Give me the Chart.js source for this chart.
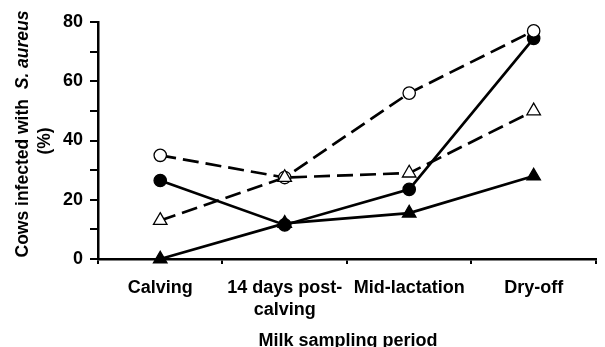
<!DOCTYPE html>
<html>
<head>
<meta charset="utf-8">
<script src="https://cdn.jsdelivr.net/npm/chart.js@4/dist/chart.umd.min.js"></script>
<style>
html,body{margin:0;padding:0;background:#fff;}
#wrap{width:605px;height:347px;position:relative;}
</style>
</head>
<body>
<div id="wrap"><canvas id="c"></canvas></div>
<script>
const categories = ['Calving', ['14 days post-', 'calving'], 'Mid-lactation', 'Dry-off'];
const openCircle = [35, 27.5, 56, 77];
const filledCircle = [26.5, 11.5, 23.5, 74.5];
const openTriangle = [13, 27.5, 29, 50];
const filledTriangle = [0, 12, 15.5, 28];
const yTicksMajor = [0, 20, 40, 60, 80];
const yTitleMain = 'Cows infected with  ';
const yTitleItalic = 'S. aureus';
const yTitleUnit = '(%)';
const xTitle = 'Milk sampling period';

const FONT = '"Liberation Sans", Arial, sans-serif';
const FS = 18;
const FSY = 17.5;

const titlePlugin = {
  id: 'titles',
  afterDraw(chart) {
    const ctx = chart.ctx;
    ctx.save();
    ctx.fillStyle = '#000';
    ctx.textBaseline = 'middle';
    // x title
    ctx.font = 'bold ' + FS + 'px ' + FONT;
    ctx.textAlign = 'center';
    ctx.fillText(xTitle, 348, 341);
    // y title line 1 (mixed style)
    ctx.save();
    ctx.translate(23, 134);
    ctx.rotate(-Math.PI / 2);
    ctx.textAlign = 'left';
    ctx.font = 'bold ' + FSY + 'px ' + FONT;
    const w1 = ctx.measureText(yTitleMain).width;
    ctx.font = 'italic bold ' + FSY + 'px ' + FONT;
    const w2 = ctx.measureText(yTitleItalic).width;
    const x0 = -(w1 + w2) / 2;
    ctx.font = 'bold ' + FSY + 'px ' + FONT;
    ctx.fillText(yTitleMain, x0, 0);
    ctx.font = 'italic bold ' + FSY + 'px ' + FONT;
    ctx.fillText(yTitleItalic, x0 + w1, 0);
    ctx.restore();
    // y title line 2
    ctx.save();
    ctx.translate(45, 141);
    ctx.rotate(-Math.PI / 2);
    ctx.textAlign = 'center';
    ctx.font = 'bold ' + FSY + 'px ' + FONT;
    ctx.fillText(yTitleUnit, 0, 0);
    ctx.restore();
    ctx.restore();
  }
};

const dash = [16, 7];
function ds(label, data, style, filled, dashed) {
  const r = style === 'triangle' ? 7.8 : 6.2;
  return {
    label, data,
    borderColor: '#000',
    borderWidth: 2.7,
    borderDash: dashed ? dash : [],
    pointStyle: style,
    pointRadius: r,
    pointHoverRadius: r,
    pointBackgroundColor: filled ? '#000' : '#fff',
    pointBorderColor: '#000',
    pointBorderWidth: 1.3,
    fill: false,
    tension: 0,
    clip: false
  };
}

new Chart(document.getElementById('c'), {
  type: 'line',
  data: {
    labels: categories,
    datasets: [
      ds('Open triangle', openTriangle, 'triangle', false, true),
      ds('Filled triangle', filledTriangle, 'triangle', true, false),
      ds('Open circle', openCircle, 'circle', false, true),
      ds('Filled circle', filledCircle, 'circle', true, false)
    ]
  },
  options: {
    responsive: true,
    maintainAspectRatio: false,
    animation: false,
    layout: { padding: { top: 22, right: 1, left: 0, bottom: 0 } },
    plugins: { legend: { display: false }, tooltip: { enabled: false } },
    scales: {
      x: {
        offset: true,
        grid: { offset: true, drawOnChartArea: false, drawTicks: true, tickLength: 5, color: '#000', lineWidth: 2 },
        border: { display: true, color: '#000', width: 2.5 },
        ticks: { color: '#000', font: { family: FONT, size: FS, weight: 'bold', lineHeight: 1.22 }, padding: 13, maxRotation: 0, autoSkip: false },
        afterFit(s) { s.height = 88; }
      },
      y: {
        min: 0, max: 80,
        grid: { drawOnChartArea: false, drawTicks: true, tickLength: 8, color: '#000', lineWidth: 2 },
        border: { display: true, color: '#000', width: 2.5 },
        ticks: {
          stepSize: 10, color: '#000', padding: 7,
          font: { family: FONT, size: FS, weight: 'bold' },
          callback: v => yTicksMajor.includes(v) ? String(v) : ''
        },
        afterFit(s) { s.width = 98; }
      }
    }
  },
  plugins: [titlePlugin]
});
</script>
</body>
</html>
